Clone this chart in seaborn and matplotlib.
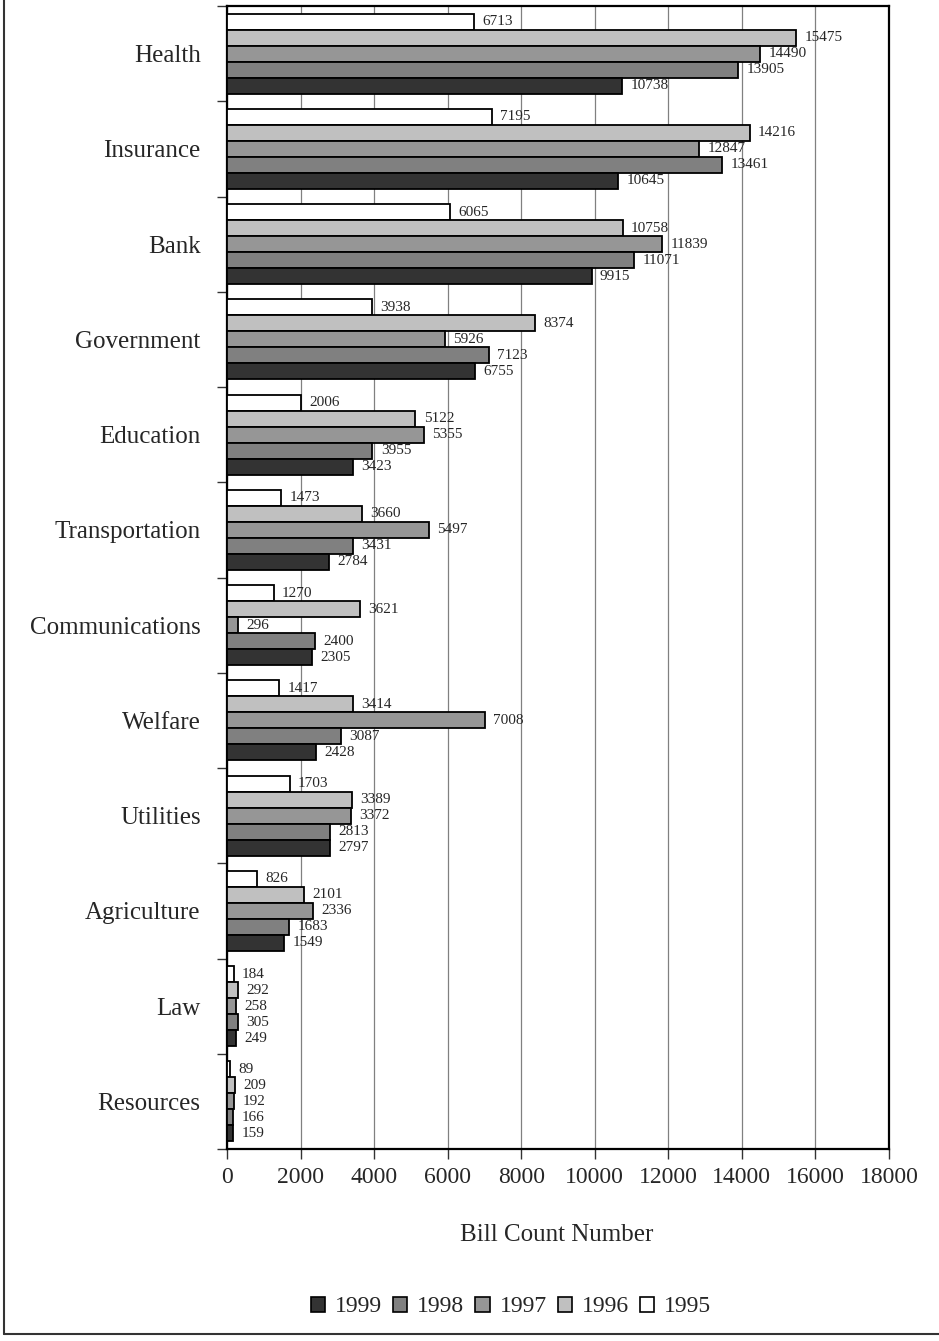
import matplotlib
matplotlib.use("Agg")
import numpy as np
import pandas as pd
import matplotlib.pyplot as plt
import seaborn as sns
from matplotlib.patches import Patch
from matplotlib.lines import Line2D

# Bill counts by sector and year
categories = ["Health", "Insurance", "Bank", "Government", "Education",
              "Transportation", "Communications", "Welfare", "Utilities",
              "Agriculture", "Law", "Resources"]
years = ["1995", "1996", "1997", "1998", "1999"]
v1995 = [6713, 7195, 6065, 3938, 2006, 1473, 1270, 1417, 1703, 826, 184, 89]
v1996 = [15475, 14216, 10758, 8374, 5122, 3660, 3621, 3414, 3389, 2101, 292, 209]
v1997 = [14490, 12847, 11839, 5926, 5355, 5497, 296, 7008, 3372, 2336, 258, 192]
v1998 = [13905, 13461, 11071, 7123, 3955, 3431, 2400, 3087, 2813, 1683, 305, 166]
v1999 = [10738, 10645, 9915, 6755, 3423, 2784, 2305, 2428, 2797, 1549, 249, 159]
xticks = list(range(0, 18001, 2000))

palette = {"1995": "#ffffff", "1996": "#c0c0c0", "1997": "#969696",
           "1998": "#808080", "1999": "#333333"}

series = {"1995": v1995, "1996": v1996, "1997": v1997, "1998": v1998, "1999": v1999}
df = pd.DataFrame([
    {"sector": cat, "year": yr, "count": vals[i]}
    for yr, vals in series.items()
    for i, cat in enumerate(categories)
])

sns.set_style("white")
plt.rcParams["font.family"] = ["Liberation Serif", "DejaVu Serif"]

W, H = 939, 1341
fig = plt.figure(figsize=(W / 100, H / 100), dpi=100)
ax = fig.add_axes([227 / W, 1 - 1149 / H, (889 - 227) / W, (1149 - 6) / H])

sns.barplot(data=df, x="count", y="sector", hue="year", hue_order=years,
            order=categories, palette=palette, saturation=1, width=0.84,
            edgecolor="black", linewidth=1.3, errorbar=None, legend=False,
            orient="h", ax=ax, zorder=3)

for cont in ax.containers:
    ax.bar_label(cont, padding=6, fontsize=11, zorder=4)

ax.set_xlim(0, 18000)
ax.set_xticks(xticks)
ax.set_xticklabels([str(t) for t in xticks])
ax.set_ylim(len(categories) - 0.5, -0.5)
ax.set_yticks(range(len(categories)))
ax.set_yticklabels(categories, fontsize=18)
ax.set_yticks(np.arange(-0.5, len(categories), 1), minor=True)
ax.tick_params(axis="y", which="major", length=0, pad=19, left=False)
ax.tick_params(axis="y", which="minor", length=7, width=1, direction="out",
               left=True, color="#333333")
ax.tick_params(axis="x", which="major", length=7, width=1, direction="out",
               bottom=True, pad=6, labelsize=17, color="#333333")
ax.set_axisbelow(True)
ax.xaxis.grid(True, color="#808080", linewidth=0.9, zorder=0)
ax.yaxis.grid(False)
for sp in ax.spines.values():
    sp.set_visible(True)
    sp.set_color("black")
    sp.set_linewidth(1.6)
ax.set_xlabel("")
ax.set_ylabel("")

fig.text(557 / W, 1 - 1235 / H, "Bill Count Number", ha="center",
         va="center", fontsize=18)

legend_years = ["1999", "1998", "1997", "1996", "1995"]
handles = [Patch(facecolor=palette[y], edgecolor="black", linewidth=1.2)
           for y in legend_years]
fig.legend(handles, legend_years, loc="center",
           bbox_to_anchor=(511 / W, 1 - 1307 / H), ncol=5, frameon=False,
           fontsize=17, handlelength=0.6, handleheight=0.6,
           handletextpad=0.42, columnspacing=0.47)

# outer frame edges
fig.add_artist(Line2D([4 / W, 4 / W], [(H - 1334) / H, 1.01],
                      transform=fig.transFigure, color="#333333", lw=1.5))
fig.add_artist(Line2D([4 / W, 1.01], [(H - 1334) / H, (H - 1334) / H],
                      transform=fig.transFigure, color="#333333", lw=1.5))

fig.savefig("out.png", dpi=100)
